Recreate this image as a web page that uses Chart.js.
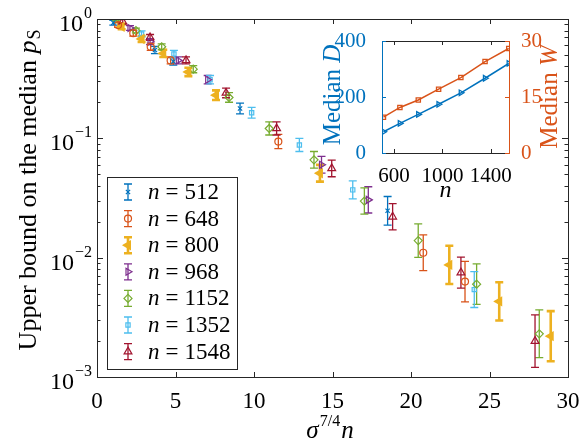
<!DOCTYPE html>
<html>
<head>
<meta charset="utf-8">
<script src="https://cdn.jsdelivr.net/npm/chart.js@4.4.0/dist/chart.umd.min.js"></script>
<style>
  body { margin: 0; background: #fff; }
  #wrap { position: relative; width: 587px; height: 443px; }
  #main { position: absolute; left: 0; top: 0; }
  #inset { position: absolute; left: 300px; top: 0; }
</style>
</head>
<body>
<div id="wrap">
  <canvas id="main" width="587" height="443"></canvas>
  <canvas id="inset" width="287" height="200"></canvas>
</div>
<script>
const serif = '"Liberation Serif", serif';

// main axes
const xTicks = [0, 5, 10, 15, 20, 25, 30];
const yTicks = [1, 0.1, 0.01, 0.001];
const yTickExp = ['0', '\u22121', '\u22122', '\u22123'];

// sigma^(7/4) n, median p_S, half error bar (in decades)
const x512 = [1.04, 3.69, 4.86, 9.11, 18.51];
const y512 = [0.93, 0.55, 0.44, 0.178, 0.0247];
const e512 = [0.02, 0.03, 0.03, 0.045, 0.12];

const x648 = [1.34, 2.31, 3.42, 4.69, 11.55, 20.78, 23.44];
const y648 = [0.89, 0.76, 0.585, 0.45, 0.094, 0.011, 0.0063];
const e648 = [0.02, 0.025, 0.03, 0.03, 0.06, 0.15, 0.17];

const x800 = [1.57, 2.84, 4.22, 5.82, 7.58, 14.2, 22.44, 25.62, 28.9];
const y800 = [0.86, 0.68, 0.515, 0.36, 0.23, 0.051, 0.0087, 0.0043, 0.0022];
const e800 = [0.02, 0.025, 0.03, 0.035, 0.04, 0.07, 0.16, 0.16, 0.21];

const x968 = [2.1, 3.38, 5.18, 7.05, 14.3, 17.28];
const y968 = [0.84, 0.645, 0.45, 0.31, 0.06, 0.0305];
const e968 = [0.02, 0.025, 0.03, 0.035, 0.07, 0.11];

const x1152 = [1.21, 2.48, 4.12, 6.13, 8.41, 10.97, 13.82, 17.03, 20.46, 24.18, 28.17];
const y1152 = [1.0, 0.80, 0.585, 0.38, 0.22, 0.121, 0.066, 0.0298, 0.0139, 0.006, 0.0023];
const e1152 = [0.015, 0.02, 0.025, 0.03, 0.04, 0.055, 0.07, 0.11, 0.14, 0.17, 0.2];

const x1352 = [2.84, 4.9, 7.2, 9.85, 12.89, 16.29, 24.03];
const y1352 = [0.75, 0.51, 0.31, 0.164, 0.088, 0.037, 0.0054];
const e1352 = [0.025, 0.03, 0.035, 0.045, 0.055, 0.075, 0.15];

const x1548 = [1.64, 3.38, 5.67, 8.22, 11.44, 14.95, 18.83, 23.18, 27.9];
const y1548 = [0.95, 0.70, 0.45, 0.24, 0.121, 0.056, 0.022, 0.0075, 0.002];
const e1548 = [0.02, 0.025, 0.03, 0.04, 0.055, 0.07, 0.11, 0.13, 0.22];

const seriesN = ['512', '648', '800', '968', '1152', '1352', '1548'];
const colors = ['#0072BD', '#D95319', '#EDB120', '#7E2F8E', '#77AC30', '#4DBEEE', '#A2142F'];

// inset: median D and W vs n
const nInset = [512, 648, 800, 968, 1152, 1352, 1548];
const medD = [76, 106, 138, 174, 215, 267, 320];
const medW = [9.6, 12.2, 14.2, 17.1, 20.2, 24.5, 28.0];
const insetXTicks = [600, 1000, 1400];
const insetDTicks = [0, 200, 400];
const insetWTicks = [0, 15, 30];

const allX = [x512, x648, x800, x968, x1152, x1352, x1548];
const allY = [y512, y648, y800, y968, y1152, y1352, y1548];
const allE = [e512, e648, e800, e968, e1152, e1352, e1548];
const markers = [
  { style: 'crossRot', rot: 0, r: 3, fill: false },
  { style: 'circle', rot: 0, r: 3.5, fill: false },
  { style: 'triangle', rot: -90, r: 4, fill: true },
  { style: 'triangle', rot: 90, r: 4, fill: false },
  { style: 'rectRot', rot: 0, r: 4, fill: false },
  { style: 'rect', rot: 0, r: 3, fill: false },
  { style: 'triangle', rot: 0, r: 4.5, fill: false }
];

const datasets = seriesN.map((n, i) => ({
  label: 'n = ' + n,
  data: allX[i].map((x, j) => ({ x: x, y: allY[i][j] })),
  err: allE[i],
  borderColor: colors[i],
  backgroundColor: markers[i].fill ? colors[i] : 'rgba(0,0,0,0)',
  pointStyle: markers[i].style,
  pointRotation: markers[i].rot,
  pointRadius: markers[i].r,
  pointBorderWidth: i === 2 ? 2 : 1.2,
  barWidth: i === 2 ? 2.6 : 1.3,
  showLine: false
}));

function drawMarker(ctx, m, color, x, y, bw) {
  ctx.strokeStyle = color;
  ctx.fillStyle = m.fill ? color : 'rgba(0,0,0,0)';
  ctx.lineWidth = bw;
  if (Chart.helpers && Chart.helpers.drawPoint) {
    Chart.helpers.drawPoint(ctx, { pointStyle: m.style, rotation: m.rot, radius: m.r, borderWidth: bw }, x, y);
  } else {
    ctx.beginPath(); ctx.arc(x, y, m.r, 0, Math.PI * 2); ctx.stroke();
  }
}

const errorBars = {
  id: 'errorBars',
  beforeDatasetsDraw(chart) {
    const ctx = chart.ctx, a = chart.chartArea, ys = chart.scales.y;
    ctx.save();
    ctx.beginPath();
    ctx.rect(a.left, a.top, a.right - a.left, a.bottom - a.top);
    ctx.clip();
    chart.data.datasets.forEach((ds, i) => {
      if (!ds.err) return;
      const meta = chart.getDatasetMeta(i);
      ctx.strokeStyle = ds.borderColor;
      ctx.lineWidth = ds.barWidth;
      meta.data.forEach((pt, j) => {
        const v = ds.data[j].y, f = Math.pow(10, ds.err[j]);
        const y1 = ys.getPixelForValue(v * f);
        const y2 = ys.getPixelForValue(v / f);
        ctx.beginPath();
        ctx.moveTo(pt.x, y1); ctx.lineTo(pt.x, y2);
        ctx.moveTo(pt.x - 4, y1); ctx.lineTo(pt.x + 4, y1);
        ctx.moveTo(pt.x - 4, y2); ctx.lineTo(pt.x + 4, y2);
        ctx.stroke();
      });
    });
    ctx.restore();
  }
};

const mainDecor = {
  id: 'mainDecor',
  afterDraw(chart) {
    const ctx = chart.ctx, a = chart.chartArea;
    const xs = chart.scales.x, ys = chart.scales.y;
    ctx.save();
    // box and inward ticks
    ctx.strokeStyle = '#262626';
    ctx.lineWidth = 1;
    ctx.strokeRect(a.left + 0.5, a.top + 0.5, a.right - a.left, a.bottom - a.top);
    ctx.beginPath();
    xTicks.forEach(v => {
      const px = Math.round(xs.getPixelForValue(v)) + 0.5;
      ctx.moveTo(px, a.bottom); ctx.lineTo(px, a.bottom - 5);
      ctx.moveTo(px, a.top); ctx.lineTo(px, a.top + 5);
    });
    for (let d = -3; d < 0; d++) {
      for (let m = 1; m < 10; m++) {
        const py = Math.round(ys.getPixelForValue(m * Math.pow(10, d))) + 0.5;
        const len = m === 1 ? 6 : 3.5;
        ctx.moveTo(a.left, py); ctx.lineTo(a.left + len, py);
        ctx.moveTo(a.right, py); ctx.lineTo(a.right - len, py);
      }
    }
    ctx.stroke();

    // y tick labels 10^k
    ctx.fillStyle = '#000';
    ctx.textBaseline = 'alphabetic';
    ctx.textAlign = 'right';
    yTicks.forEach((v, i) => {
      const py = ys.getPixelForValue(v);
      ctx.font = '16px ' + serif;
      const ew = ctx.measureText(yTickExp[i]).width;
      ctx.fillText(yTickExp[i], 92, py - 1);
      ctx.font = '24px ' + serif;
      ctx.fillText('10', 92 - ew - 1, py + 12);
    });

    // y title
    ctx.save();
    ctx.translate(28, 190);
    ctx.rotate(-Math.PI / 2);
    ctx.textAlign = 'left';
    const t1 = 'Upper bound on the median ';
    ctx.font = '26px ' + serif;
    const w1 = ctx.measureText(t1).width;
    ctx.font = 'italic 26px ' + serif;
    const w2 = ctx.measureText('p').width;
    ctx.font = '18px ' + serif;
    const w3 = ctx.measureText('S').width;
    let sx = -(w1 + w2 + w3 + 1) / 2;
    ctx.font = '26px ' + serif;
    ctx.fillText(t1, sx, 8);
    ctx.font = 'italic 26px ' + serif;
    ctx.fillText('p', sx + w1, 8);
    ctx.font = '18px ' + serif;
    ctx.fillText('S', sx + w1 + w2 + 1, 12);
    ctx.restore();

    // x title sigma^{7/4} n
    ctx.textAlign = 'left';
    ctx.font = 'italic 25px ' + serif;
    const ws = ctx.measureText('\u03C3').width;
    const wn = ctx.measureText('n').width;
    ctx.font = '16px ' + serif;
    const we = ctx.measureText('7/4').width;
    let tx = 330 - (ws + we + wn + 2) / 2;
    ctx.font = 'italic 25px ' + serif;
    ctx.fillText('\u03C3', tx, 438);
    ctx.font = '16px ' + serif;
    ctx.fillText('7/4', tx + ws + 1, 426);
    ctx.font = 'italic 25px ' + serif;
    ctx.fillText('n', tx + ws + we + 2, 438);

    // legend
    const lx = 107, ly = 177, lw = 130, lh = 192;
    ctx.fillStyle = '#fff';
    ctx.fillRect(lx, ly, lw, lh);
    ctx.strokeStyle = '#262626';
    ctx.lineWidth = 1;
    ctx.strokeRect(lx + 0.5, ly + 0.5, lw, lh);
    seriesN.forEach((n, i) => {
      const cy = 192 + i * 26.6;
      const cx = 128;
      ctx.strokeStyle = colors[i];
      ctx.lineWidth = i === 2 ? 2.6 : 1.3;
      ctx.beginPath();
      ctx.moveTo(cx, cy - 8); ctx.lineTo(cx, cy + 8);
      ctx.moveTo(cx - 4, cy - 8); ctx.lineTo(cx + 4, cy - 8);
      ctx.moveTo(cx - 4, cy + 8); ctx.lineTo(cx + 4, cy + 8);
      ctx.stroke();
      drawMarker(ctx, markers[i], colors[i], cx, cy, i === 2 ? 2 : 1.2);
      ctx.fillStyle = '#000';
      ctx.textAlign = 'left';
      ctx.font = 'italic 23px ' + serif;
      ctx.fillText('n', 148, cy + 7);
      const nw = ctx.measureText('n').width;
      ctx.font = '23px ' + serif;
      ctx.fillText('=', 148 + nw + 6, cy + 7);
      const eqw = ctx.measureText('=').width;
      ctx.fillText(n, 148 + nw + eqw + 12, cy + 7);
    });
    ctx.restore();
  }
};

new Chart(document.getElementById('main'), {
  type: 'scatter',
  data: { datasets: datasets },
  options: {
    responsive: false,
    animation: false,
    layout: { padding: { left: 0, top: 19, right: 19, bottom: 0 } },
    plugins: { legend: { display: false }, tooltip: { enabled: false } },
    scales: {
      x: {
        type: 'linear', min: 0, max: 30,
        afterBuildTicks: s => { s.ticks = xTicks.map(v => ({ value: v })); },
        afterFit: s => { s.height = 66; },
        grid: { display: false }, border: { display: false },
        ticks: { color: '#000', font: { family: serif, size: 23 }, padding: 3, maxRotation: 0,
                 callback: v => String(v) }
      },
      y: {
        type: 'logarithmic', min: 0.001, max: 1,
        afterFit: s => { s.width = 97; },
        grid: { display: false }, border: { display: false },
        ticks: { display: false }
      }
    }
  },
  plugins: [errorBars, mainDecor]
});

// inset
const insetDecor = {
  id: 'insetDecor',
  afterDraw(chart) {
    const ctx = chart.ctx, a = chart.chartArea;
    const xs = chart.scales.x, yl = chart.scales.yL, yr = chart.scales.yR;
    ctx.save();
    ctx.lineWidth = 1;
    ctx.strokeStyle = '#262626';
    ctx.beginPath();
    ctx.moveTo(a.left, a.top + 0.5); ctx.lineTo(a.right, a.top + 0.5);
    ctx.moveTo(a.left, a.bottom + 0.5); ctx.lineTo(a.right, a.bottom + 0.5);
    insetXTicks.forEach(v => {
      const px = Math.round(xs.getPixelForValue(v)) + 0.5;
      ctx.moveTo(px, a.bottom); ctx.lineTo(px, a.bottom - 4);
      ctx.moveTo(px, a.top); ctx.lineTo(px, a.top + 4);
    });
    ctx.stroke();
    ctx.strokeStyle = colors[0];
    ctx.beginPath();
    ctx.moveTo(a.left + 0.5, a.top); ctx.lineTo(a.left + 0.5, a.bottom + 1);
    insetDTicks.forEach(v => {
      const py = Math.round(yl.getPixelForValue(v)) + 0.5;
      ctx.moveTo(a.left, py); ctx.lineTo(a.left + 4, py);
    });
    ctx.stroke();
    ctx.strokeStyle = colors[1];
    ctx.beginPath();
    ctx.moveTo(a.right + 0.5, a.top); ctx.lineTo(a.right + 0.5, a.bottom + 1);
    insetWTicks.forEach(v => {
      const py = Math.round(yr.getPixelForValue(v)) + 0.5;
      ctx.moveTo(a.right, py); ctx.lineTo(a.right - 4, py);
    });
    ctx.stroke();

    // titles
    const rotTitle = (cx, cy, color, letter) => {
      ctx.save();
      ctx.translate(cx, cy);
      ctx.rotate(-Math.PI / 2);
      ctx.fillStyle = color;
      ctx.textAlign = 'left';
      ctx.font = '25px ' + serif;
      const w1 = ctx.measureText('Median ').width;
      ctx.font = 'italic 25px ' + serif;
      const w2 = ctx.measureText(letter).width;
      const sx = -(w1 + w2) / 2;
      ctx.font = '25px ' + serif;
      ctx.fillText('Median ', sx, 8);
      ctx.font = 'italic 25px ' + serif;
      ctx.fillText(letter, sx + w1, 8);
      ctx.restore();
    };
    rotTitle(32, 95, colors[0], 'D');
    rotTitle(249, 97, colors[1], 'W');
    ctx.fillStyle = '#000';
    ctx.textAlign = 'center';
    ctx.font = 'italic 24px ' + serif;
    ctx.fillText('n', (a.left + a.right) / 2, 197);
    ctx.restore();
  }
};

new Chart(document.getElementById('inset'), {
  type: 'line',
  data: {
    datasets: [
      {
        data: nInset.map((n, i) => ({ x: n, y: medD[i] })),
        yAxisID: 'yL',
        borderColor: colors[0], backgroundColor: 'rgba(0,0,0,0)',
        borderWidth: 1.5, pointStyle: 'triangle', pointRotation: 90,
        pointRadius: 3.2, pointBorderWidth: 1.3
      },
      {
        data: nInset.map((n, i) => ({ x: n, y: medW[i] })),
        yAxisID: 'yR',
        borderColor: colors[1], backgroundColor: 'rgba(0,0,0,0)',
        borderWidth: 1.5, pointStyle: 'rect',
        pointRadius: 3, pointBorderWidth: 1.3
      }
    ]
  },
  options: {
    responsive: false,
    animation: false,
    layout: { padding: { left: 0, top: 41, right: 0, bottom: 0 } },
    plugins: { legend: { display: false }, tooltip: { enabled: false } },
    scales: {
      x: {
        type: 'linear', min: 500, max: 1550,
        afterBuildTicks: s => { s.ticks = insetXTicks.map(v => ({ value: v })); },
        afterFit: s => { s.height = 47; },
        grid: { display: false }, border: { display: false },
        ticks: { color: '#000', font: { family: serif, size: 21 }, padding: 3, maxRotation: 0,
                 callback: v => String(v) }
      },
      yL: {
        type: 'linear', position: 'left', min: 0, max: 400,
        afterBuildTicks: s => { s.ticks = insetDTicks.map(v => ({ value: v })); },
        afterFit: s => { s.width = 82; },
        grid: { display: false }, border: { display: false },
        ticks: { color: colors[0], font: { family: serif, size: 21 }, padding: 8,
                 callback: v => String(v) }
      },
      yR: {
        type: 'linear', position: 'right', min: 0, max: 30,
        afterBuildTicks: s => { s.ticks = insetWTicks.map(v => ({ value: v })); },
        afterFit: s => { s.width = 78; },
        grid: { display: false }, border: { display: false },
        ticks: { color: colors[1], font: { family: serif, size: 21 }, padding: 4,
                 callback: v => String(v) }
      }
    }
  },
  plugins: [insetDecor]
});
</script>
</body>
</html>
